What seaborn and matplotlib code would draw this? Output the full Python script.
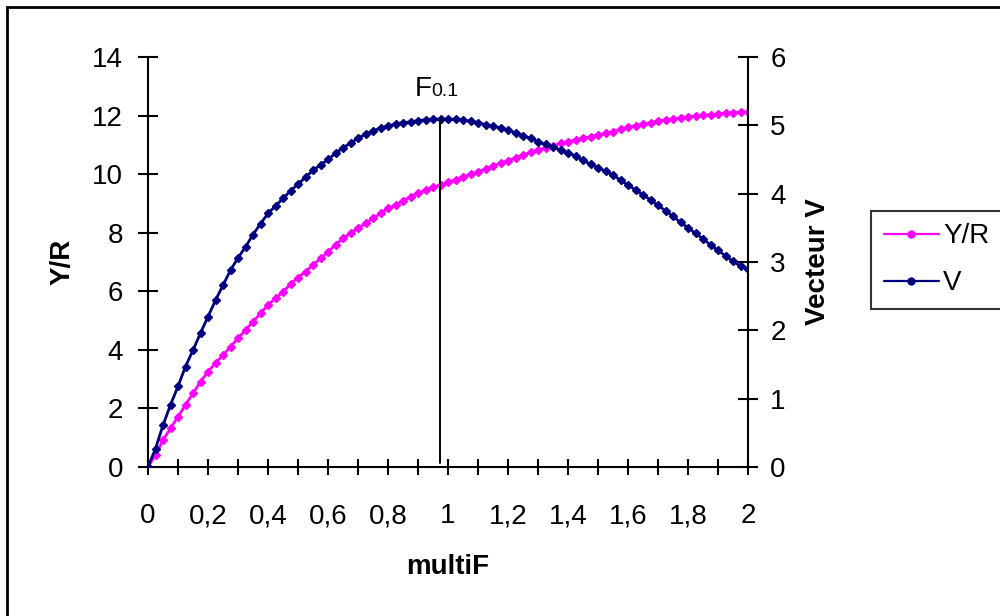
import numpy as np
import pandas as pd
import matplotlib
matplotlib.use("Agg")
import matplotlib.pyplot as plt
from matplotlib.patches import Rectangle
from matplotlib.ticker import FixedLocator, FixedFormatter
import seaborn as sns

# values
MULTIF = [0, 0.025, 0.05, 0.075, 0.1, 0.125, 0.15, 0.175, 0.2, 0.225,
          0.25, 0.275, 0.3, 0.325, 0.35, 0.375, 0.4, 0.425, 0.45, 0.475,
          0.5, 0.525, 0.55, 0.575, 0.6, 0.625, 0.65, 0.675, 0.7, 0.725,
          0.75, 0.775, 0.8, 0.825, 0.85, 0.875, 0.9, 0.925, 0.95, 0.975,
          1.0, 1.025, 1.05, 1.075, 1.1, 1.125, 1.15, 1.175, 1.2, 1.225,
          1.25, 1.275, 1.3, 1.325, 1.35, 1.375, 1.4, 1.425, 1.45, 1.475,
          1.5, 1.525, 1.55, 1.575, 1.6, 1.625, 1.65, 1.675, 1.7, 1.725,
          1.75, 1.775, 1.8, 1.825, 1.85, 1.875, 1.9, 1.925, 1.95, 1.975,
          2.0]

Y_R = [0, 0.41, 0.92, 1.32, 1.72, 2.12, 2.52, 2.91, 3.26, 3.54,
       3.82, 4.11, 4.39, 4.68, 4.96, 5.25, 5.53, 5.76, 5.99, 6.24,
       6.47, 6.67, 6.90, 7.12, 7.35, 7.58, 7.81, 7.98, 8.15, 8.32,
       8.49, 8.66, 8.83, 8.95, 9.09, 9.23, 9.34, 9.46, 9.55, 9.63,
       9.72, 9.81, 9.90, 9.99, 10.08, 10.18, 10.28, 10.37, 10.46, 10.56,
       10.65, 10.74, 10.82, 10.90, 10.97, 11.05, 11.11, 11.17, 11.22, 11.28,
       11.34, 11.39, 11.45, 11.53, 11.60, 11.66, 11.71, 11.76, 11.80, 11.85,
       11.88, 11.92, 11.96, 11.98, 12.01, 12.03, 12.05, 12.08, 12.10, 12.11,
       12.12]

V = [0, 0.27, 0.61, 0.91, 1.18, 1.47, 1.71, 1.96, 2.20, 2.44,
     2.66, 2.88, 3.06, 3.22, 3.40, 3.56, 3.71, 3.82, 3.93, 4.04,
     4.14, 4.24, 4.34, 4.42, 4.50, 4.59, 4.67, 4.74, 4.81, 4.87,
     4.92, 4.96, 4.99, 5.02, 5.04, 5.05, 5.07, 5.08, 5.09, 5.09,
     5.09, 5.09, 5.08, 5.06, 5.04, 5.01, 4.99, 4.96, 4.93, 4.89,
     4.85, 4.81, 4.76, 4.72, 4.68, 4.64, 4.60, 4.55, 4.49, 4.43,
     4.38, 4.33, 4.27, 4.20, 4.12, 4.06, 3.98, 3.91, 3.83, 3.75,
     3.67, 3.58, 3.50, 3.42, 3.34, 3.25, 3.17, 3.09, 3.01, 2.94,
     2.90]

F01_X = 0.973
F01_V = [0.06, 5.09]

X_TICKS = [0, 0.1, 0.2, 0.3, 0.4, 0.5, 0.6, 0.7, 0.8, 0.9, 1.0,
           1.1, 1.2, 1.3, 1.4, 1.5, 1.6, 1.7, 1.8, 1.9, 2.0]
X_LABELS = ["0", "", "0,2", "", "0,4", "", "0,6", "", "0,8", "", "1",
            "", "1,2", "", "1,4", "", "1,6", "", "1,8", "", "2"]
YR_TICKS = [0, 2, 4, 6, 8, 10, 12, 14]
V_TICKS = [0, 1, 2, 3, 4, 5, 6]

PINK = "#FF00FF"
NAVY = "#000080"

sns.set_style("white")
plt.rcParams["font.family"] = ["Liberation Sans", "DejaVu Sans"]
plt.rcParams["text.color"] = "black"
plt.rcParams["axes.labelcolor"] = "black"
plt.rcParams["xtick.color"] = "black"
plt.rcParams["ytick.color"] = "black"
FS = 20

df = pd.DataFrame({"multiF": MULTIF, "Y/R": Y_R, "V": V})

fig = plt.figure(figsize=(10, 6.16), dpi=100)
ax = fig.add_axes([0.148, 0.2419, 0.6, 0.6656])
ax2 = ax.twinx()

sns.lineplot(data=df, x="multiF", y="Y/R", ax=ax, color=PINK, marker="D",
             markersize=4.5, markeredgewidth=1, markeredgecolor=PINK,
             linewidth=2, label="Y/R", legend=False)
sns.lineplot(data=df, x="multiF", y="V", ax=ax2, color=NAVY, marker="D",
             markersize=4.5, markeredgewidth=1, markeredgecolor=NAVY,
             linewidth=2, label="V", legend=False)

# F0.1 vertical marker
ax2.plot([F01_X, F01_X], F01_V, color="black", linewidth=1.4)
ax2.text(0.888, 5.43, "F", fontsize=FS, ha="left", va="baseline")
ax2.text(0.945, 5.43, "0.1", fontsize=14, ha="left", va="baseline")

ax.set_xlim(0, 2)
ax.set_ylim(0, 14)
ax2.set_ylim(0, 6)
ax.xaxis.set_major_locator(FixedLocator(X_TICKS))
ax.xaxis.set_major_formatter(FixedFormatter(X_LABELS))
ax.set_yticks(YR_TICKS)
ax2.set_yticks(V_TICKS)

for a in (ax, ax2):
    a.spines["top"].set_visible(False)
    for s in a.spines.values():
        s.set_linewidth(1.5)
        s.set_color("black")
ax.spines["right"].set_visible(False)
ax2.spines["left"].set_visible(False)
ax2.spines["bottom"].set_visible(False)

ax.tick_params(axis="x", direction="inout", length=12, width=1.5,
               labelsize=FS, pad=20, bottom=True)
ax.tick_params(axis="y", direction="inout", length=14, width=1.5,
               labelsize=FS, pad=11, left=True)
ax2.tick_params(axis="y", direction="inout", length=14, width=1.5,
                labelsize=FS, pad=9, right=True)

ax.set_xlabel("multiF", fontsize=FS, fontweight="bold", labelpad=18)
ax.set_ylabel("Y/R", fontsize=FS, fontweight="bold", labelpad=12)
ax2.set_ylabel("Vecteur V", fontsize=FS, fontweight="bold", labelpad=14)

handles = ax.get_lines()[:1] + ax2.get_lines()[:1]
leg = fig.legend(handles, ["Y/R", "V"], loc="upper left",
                 bbox_to_anchor=(0.871, 1 - 211 / 616), borderaxespad=0,
                 fontsize=FS, frameon=True, fancybox=False, shadow=False,
                 handlelength=2.0, handletextpad=0.15, labelspacing=0.75,
                 borderpad=0.45, numpoints=1)
leg.get_frame().set_edgecolor("black")
leg.get_frame().set_linewidth(1.5)
for h in leg.legend_handles:
    h.set_markersize(5)
    h.set_marker("o")
    h.set_linewidth(1.6)

# outer chart border (cropped at right and bottom like the original)
fig.patches.append(Rectangle((0.007, -0.1), 1.2, 1.1 - 0.012,
                             transform=fig.transFigure, fill=False,
                             edgecolor="black", linewidth=2))

fig.savefig("out.png", dpi=100)
